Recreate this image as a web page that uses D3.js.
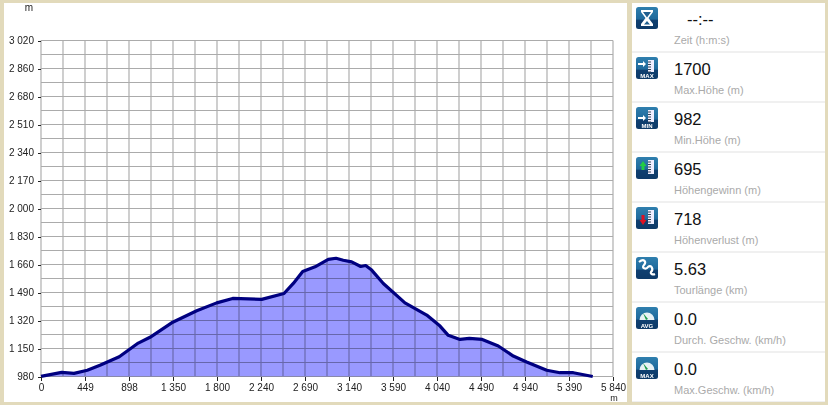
<!DOCTYPE html>
<html><head><meta charset="utf-8">
<script src="https://cdnjs.cloudflare.com/ajax/libs/d3/7.8.5/d3.min.js"></script>
<style>
html,body{margin:0;padding:0;background:#e2dabb;overflow:hidden}
svg{display:block}
text{font-family:"Liberation Sans",Arial,sans-serif}
.axis text{font-size:10px;fill:#222}
.axis path{display:none}
.axis line{stroke:#222;stroke-width:1;shape-rendering:crispEdges}
</style></head><body>
<svg id="c" width="828" height="405"></svg>
<script>
const distance=[0,211,337,473,602,799,993,1113,1334,1590,1794,1957,2253,2481,2576,2672,2798,2933,3012,3086,3172,3264,3315,3376,3495,3716,3938,4074,4158,4278,4373,4505,4669,4822,4958,5163,5299,5435,5633];
const elevation=[981,1005,999,1018,1048,1100,1183,1218,1306,1379,1427,1454,1448,1484,1545,1618,1646,1691,1698,1686,1676,1648,1654,1626,1545,1427,1353,1286,1230,1205,1212,1205,1165,1104,1068,1018,1003,1003,980];
const yTickLabels=["980","1 150","1 320","1 490","1 660","1 830","2 000","2 170","2 340","2 510","2 680","2 860","3 020"];
const xTickLabels=["0","449","898","1 350","1 800","2 240","2 690","3 140","3 590","4 040","4 490","4 940","5 390","5 840"];
const statValues=["--:--","1700","982","695","718","5.63","0.0","0.0"];
const statLabels=["Zeit (h:m:s)","Max.Höhe (m)","Min.Höhe (m)","Höhengewinn (m)","Höhenverlust (m)","Tourlänge (km)","Durch. Geschw. (km/h)","Max.Geschw. (km/h)"];
const statIcons=["time","max","min","gain","loss","route","avg","vmax"];

const svg=d3.select("#c");
const L=41,R=613,T=40.5,B=376.5;
const defs=svg.append("defs");
const g=defs.append("linearGradient").attr("id","ig").attr("x1",0).attr("x2",0).attr("y1",0).attr("y2",1);
g.append("stop").attr("offset","0").attr("stop-color","#2f7fae");
g.append("stop").attr("offset","0.55").attr("stop-color","#1f6a9c");
g.append("stop").attr("offset","0.6").attr("stop-color","#0f3f70");
g.append("stop").attr("offset","1").attr("stop-color","#0d3a68");

// chart panel
svg.append("rect").attr("x",4).attr("y",3).attr("width",623).attr("height",399).attr("fill","#fff");

const x=d3.scaleLinear().domain([0,5840]).range([L,R]);
const y=d3.scaleLinear().domain([980,3020]).range([B,T]);
const xp=d3.scalePoint().domain(xTickLabels).range([L,R]);
const yp=d3.scalePoint().domain(yTickLabels).range([B,T]);

// grid (every half label step)
const grid=svg.append("g").attr("stroke","#ababab").attr("stroke-width",1.15);
d3.range(0,xTickLabels.length-0.5,0.5).forEach(i=>{
  const px=L+i*xp.step();
  grid.append("line").attr("x1",px).attr("x2",px).attr("y1",T).attr("y2",B);
});
d3.range(0,yTickLabels.length-0.5,0.5).forEach(i=>{
  const py=B-i*yp.step();
  grid.append("line").attr("x1",L).attr("x2",R).attr("y1",py).attr("y2",py);
});

const pts=distance.map((d,i)=>[d,elevation[i]]);
svg.append("path").datum(pts)
  .attr("d",d3.area().x(d=>x(d[0])).y0(B).y1(d=>y(d[1])))
  .attr("fill","#9999ff").style("mix-blend-mode","multiply");
svg.append("path").datum(pts)
  .attr("d",d3.line().x(d=>x(d[0])).y(d=>y(d[1])))
  .attr("fill","none").attr("stroke","#000080").attr("stroke-width",3.2).attr("stroke-linejoin","round");

svg.append("g").attr("class","axis").attr("transform",`translate(${L},0)`)
  .call(d3.axisLeft(yp).tickSize(3).tickPadding(4));
svg.append("g").attr("class","axis").attr("transform",`translate(0,${B})`)
  .call(d3.axisBottom(xp).tickSize(4).tickPadding(3));
svg.append("text").attr("x",29).attr("y",11).attr("text-anchor","middle").attr("font-size",10).attr("fill","#222").text("m");
svg.append("text").attr("x",614).attr("y",401).attr("text-anchor","middle").attr("font-size",9).attr("fill","#222").text("m");

// right panel
svg.append("rect").attr("x",632).attr("y",3).attr("width",193).attr("height",399).attr("fill","#f0f0f0");
const rows=svg.selectAll("g.row").data(statValues).join("g").attr("class","row")
  .attr("transform",(d,i)=>`translate(632,${3+i*50})`);
rows.append("rect").attr("width",193).attr("height",48).attr("fill","#fff");
rows.append("rect").attr("x",4).attr("y",4).attr("width",22).attr("height",22).attr("rx",2.5).attr("fill","url(#ig)");
rows.append("text").attr("x",(d,i)=>i===0?55:42).attr("y",22).attr("font-size",16.5).attr("fill","#111").text(d=>d);
rows.append("text").attr("x",42).attr("y",41).attr("font-size",11).attr("fill","#aaa").text((d,i)=>statLabels[i]);

// icon glyphs
rows.each(function(d,i){
  const k=statIcons[i], s=d3.select(this).append("g").attr("transform","translate(4,4)");
  const tag=t=>s.append("text").attr("x",11).attr("y",20.5).attr("text-anchor","middle").attr("font-size",6).attr("font-weight","bold").attr("fill","#fff").text(t);
  const ruler=()=>{
    s.append("rect").attr("x",12).attr("y",3).attr("width",6).attr("height",14).attr("fill","#eef");
    d3.range(5,17,2.5).forEach(v=>s.append("line").attr("x1",12).attr("x2",15).attr("y1",v).attr("y2",v).attr("stroke","#345"));
  };
  if(k==="time"){
    s.append("path").attr("d","M5 3H17V5L12.5 11L17 17V19H5V17L9.5 11L5 5Z").attr("fill","#fff");
    s.append("path").attr("d","M7 5H15L11 10.5ZM8 17.5L11 14L14 17.5Z").attr("fill","#1f5f8f");
  } else if(k==="max"||k==="min"){
    ruler(); s.select("rect").attr("height",12);
    s.append("path").attr("d",k==="max"?"M2 6H7V4L10 7L7 10V8H2Z":"M2 10H7V8L10 11L7 14V12H2Z").attr("fill","#fff");
    tag(k.toUpperCase());
  } else if(k==="gain"||k==="loss"){
    ruler();
    s.append("path").attr("d",k==="gain"?"M7 4L10.5 9H8.5V13H5.5V9H3.5Z":"M5.5 8H8.5V13H10.5L7 18L3.5 13H5.5Z").attr("fill",k==="gain"?"#22cc44":"#dd1122");
  } else if(k==="route"){
    s.append("path").attr("d","M3 5C8 1 11 5 8 8C5 11 10 13 12 10C15 7 18 12 15 15C14 17 17 18 19 17").attr("fill","none").attr("stroke","#fff").attr("stroke-width",2.2);
  } else {
    s.append("path").attr("d","M3.5 13A7.5 7.5 0 0 1 18.5 13Z").attr("fill","#e8f2f5");
    s.append("path").attr("d","M7 6L12 12L10 13Z").attr("fill","#1a9a4a");
    tag(k==="avg"?"AVG":"MAX");
  }
});
</script></body></html>
